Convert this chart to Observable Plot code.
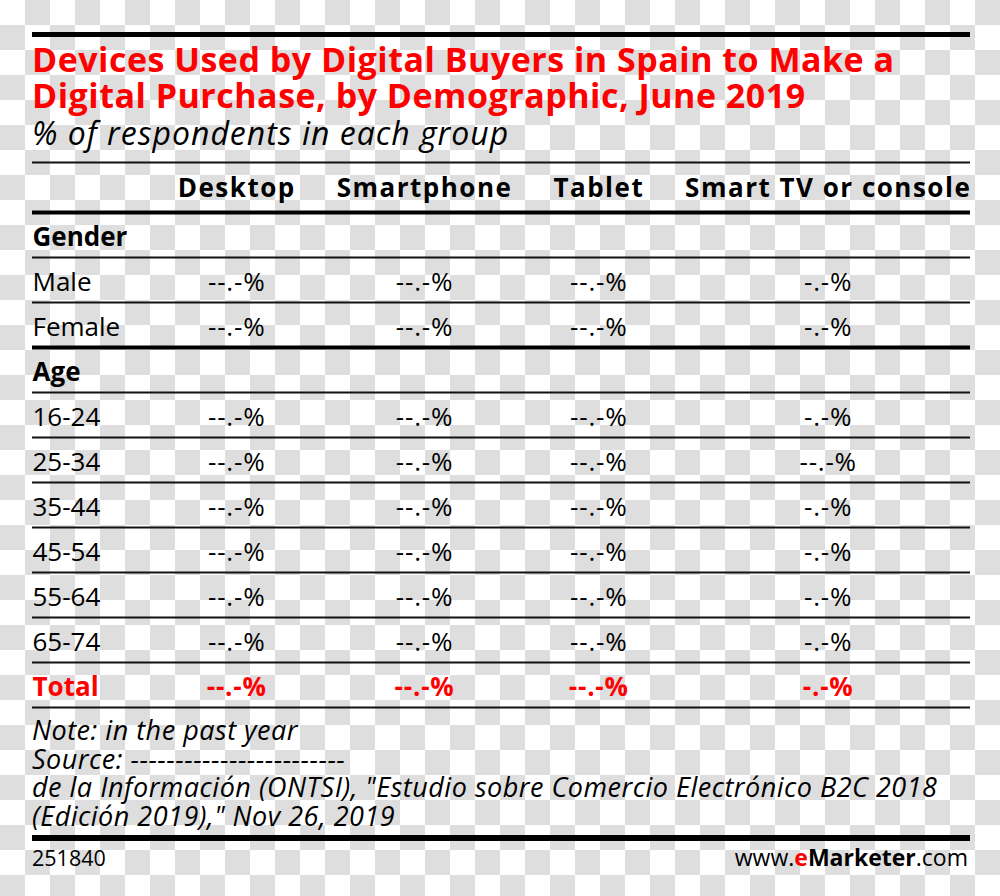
<!DOCTYPE html>
<html>
<head>
<meta charset="utf-8">
<script src="https://cdn.jsdelivr.net/npm/d3@7"></script>
<script src="https://cdn.jsdelivr.net/npm/@observablehq/plot@0.6"></script>
<style>
html, body { margin: 0; padding: 0; }
body {
  width: 1000px; height: 896px; position: relative; overflow: hidden;
  background: repeating-conic-gradient(#dedede 0 25%, #ffffff 0 50%) 0 0 / 50px 50px;
  font-family: "Open Sans", sans-serif; color: #000;
}
.abs { position: absolute; white-space: nowrap; }
#topRule { left: 32px; top: 32px; width: 938px; height: 5px; background: #000; }
#title { left: 32px; top: 41px; color: #f00; font-weight: 700; font-size: 34px; line-height: 36px; letter-spacing: 0.5px; }
#subtitle { left: 32px; top: 115px; font-style: italic; font-size: 32px; line-height: 36px; letter-spacing: 1px; }
#chart { left: 0; top: 150px; }
.note { left: 32px; font-style: italic; font-size: 27px; line-height: 28px; height: 28px; letter-spacing: 0.5px; }
#bottomRule { left: 32px; top: 835px; width: 938px; height: 6px; background: #000; }
#chartId { left: 32px; top: 846px; font-size: 21.5px; line-height: 24px; }
#brand { right: 32px; top: 845px; font-size: 23px; line-height: 24px; }
#brand .e { color: #f00; font-weight: 700; }
#brand .m { font-weight: 700; }
</style>
</head>
<body>
<div class="abs" id="topRule"></div>
<div class="abs" id="title">Devices Used by Digital Buyers in Spain to Make a<br>Digital Purchase, by Demographic, June 2019</div>
<div class="abs" id="subtitle">% of respondents in each group</div>
<div class="abs" id="chart"></div>
<div class="abs note" style="top:716px">Note: in the past year</div>
<div class="abs note" style="top:744.5px">Source: ------------------------</div>
<div class="abs note" style="top:773px">de la Información (ONTSI), "Estudio sobre Comercio Electrónico B2C 2018</div>
<div class="abs note" style="top:801.5px">(Edición 2019)," Nov 26, 2019</div>
<div class="abs" id="bottomRule"></div>
<div class="abs" id="chartId">251840</div>
<div class="abs" id="brand">www.<span class="e">e</span><span class="m">Marketer</span>.com</div>
<script>
// ---- data ----
const columns = ["Desktop", "Smartphone", "Tablet", "Smart TV or console"];
const rowLabels = ["Gender", "Male", "Female", "Age", "16-24", "25-34", "35-44", "45-54", "55-64", "65-74", "Total"];
const sectionRows = ["Gender", "Age"];
const totalRow = "Total";
const desktop    = [null, "--.-%", "--.-%", null, "--.-%", "--.-%", "--.-%", "--.-%", "--.-%", "--.-%", "--.-%"];
const smartphone = [null, "--.-%", "--.-%", null, "--.-%", "--.-%", "--.-%", "--.-%", "--.-%", "--.-%", "--.-%"];
const tablet     = [null, "--.-%", "--.-%", null, "--.-%", "--.-%", "--.-%", "--.-%", "--.-%", "--.-%", "--.-%"];
const smartTv    = [null, "-.-%", "-.-%", null, "-.-%", "--.-%", "-.-%", "-.-%", "-.-%", "-.-%", "-.-%"];
const thickAfter = ["header", "Female"];

// ---- layout (derived) ----
const FONT = "Open Sans";
const W = 1000, H = 565;
const marginLeft = 32, marginRight = 30;
const tableWidth = W - marginLeft - marginRight;   // 938
const labelColWidth = 146;
const headerFontSize = 26, headerSpacing = 1.5;
const rowPx = 45, headerPx = 50;
const headerUnits = headerPx / rowPx;

const ctx = document.createElement("canvas").getContext("2d");
ctx.font = `700 ${headerFontSize}px "${FONT}"`;
const widths = columns.map(c => ctx.measureText(c).width + headerSpacing * (c.length - 1));
const gap = (tableWidth - labelColWidth - d3.sum(widths)) / (columns.length - 1);
const centers = new Map();
let cursor = labelColWidth;
columns.forEach((c, i) => { centers.set(c, cursor + widths[i] / 2); cursor += widths[i] + gap; });

const seriesByCol = new Map([[columns[0], desktop], [columns[1], smartphone], [columns[2], tablet], [columns[3], smartTv]]);
const cells = [];
for (const c of columns) {
  seriesByCol.get(c).forEach((v, i) => { if (v != null) cells.push({col: c, row: rowLabels[i], i, v}); });
}
const rows = rowLabels.map((r, i) => ({r, i}));
const isBoldRow = d => sectionRows.includes(d.r);
const boundaries = [{y: -headerUnits, thick: false}, {y: 0, thick: true}]
  .concat(rowLabels.map((r, i) => ({y: i + 1, thick: thickAfter.includes(r)})));

const plot = Plot.plot({
  width: W, height: H,
  marginLeft, marginRight, marginTop: 12, marginBottom: 8,
  style: {background: "transparent", fontFamily: FONT, color: "#000"},
  x: {domain: [0, tableWidth], axis: null},
  y: {domain: [-headerUnits, rowLabels.length], reverse: true, axis: null},
  marks: [
    Plot.ruleY(boundaries.filter(d => !d.thick), {y: "y", x1: 0, x2: tableWidth, stroke: "#111", strokeWidth: 2}),
    Plot.ruleY(boundaries.filter(d => d.thick), {y: "y", x1: 0, x2: tableWidth, stroke: "#000", strokeWidth: 4}),
    Plot.text(columns, {x: d => centers.get(d), y: -headerUnits / 2, text: d => d, fontSize: headerFontSize,
      fontWeight: 700, fill: "#000", dy: 1, className: "colhead"}),
    // regular row labels
    Plot.text(rows.filter(d => !isBoldRow(d) && d.r !== totalRow), {x: 0, y: d => d.i + 0.5, text: "r",
      textAnchor: "start", fontSize: 26, fontWeight: 400, fill: "#000", dy: 3}),
    // section labels
    Plot.text(rows.filter(isBoldRow), {x: 0, y: d => d.i + 0.5, text: "r",
      textAnchor: "start", fontSize: 26, fontWeight: 700, fill: "#000", dy: 3}),
    // total label
    Plot.text(rows.filter(d => d.r === totalRow), {x: 0, y: d => d.i + 0.5, text: "r",
      textAnchor: "start", fontSize: 26, fontWeight: 700, fill: "#f00", dy: 3}),
    // values
    Plot.text(cells.filter(d => d.row !== totalRow), {x: d => centers.get(d.col), y: d => d.i + 0.5, text: "v",
      fontSize: 26, fontWeight: 400, fill: "#000", dy: 3}),
    Plot.text(cells.filter(d => d.row === totalRow), {x: d => centers.get(d.col), y: d => d.i + 0.5, text: "v",
      fontSize: 26, fontWeight: 700, fill: "#f00", dy: 3})
  ]
});
plot.querySelectorAll("text").forEach(t => {
  const s = t.textContent;
  if (s.includes("%")) t.style.letterSpacing = "0.8px";
  else if (columns.includes(s)) t.style.letterSpacing = headerSpacing + "px";
});
document.getElementById("chart").appendChild(plot);
</script>
</body>
</html>
